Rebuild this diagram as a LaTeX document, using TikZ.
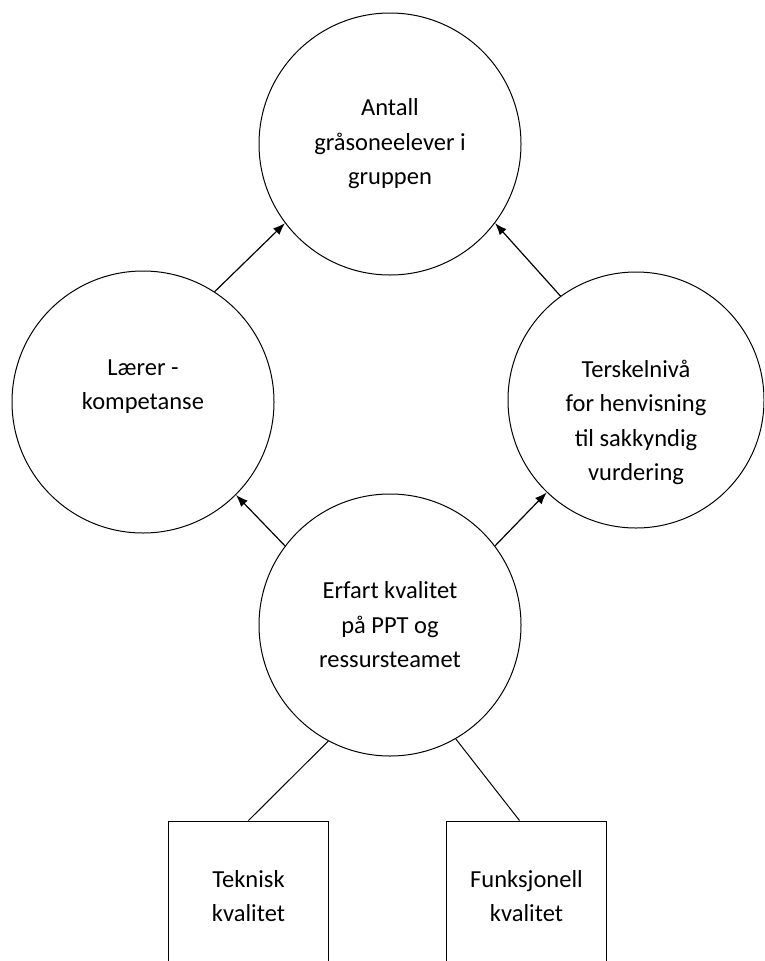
\documentclass[tikz,border=0pt]{standalone}
\usepackage{fontspec}
\setmainfont{Carlito}
\usetikzlibrary{arrows.meta}

\begin{document}
\begin{tikzpicture}[x=1pt, y=-1pt,
        circ/.style={draw, circle, line width=1pt, minimum size=262pt, inner sep=0pt,
            align=center, font=\fontsize{24.5}{34.5}\selectfont},
        boks/.style={draw, rectangle, line width=1pt, minimum width=160pt, minimum height=150pt,
            align=center, font=\fontsize{24.5}{34.5}\selectfont},
        pil/.style={-{Latex[length=12pt, width=9pt]}, line width=1.2pt}]
        \useasboundingbox (0, 0) rectangle (764, 961);
        \clip (0, 0) rectangle (764, 961);
        % Circles
        \node [circ] (antall) at (390, 144) {Antall\\gråsoneelever i\\gruppen};
        \node [circ] (laerer) at (143, 402) {Lærer -\\kompetanse\\\mbox{}};
        \node [circ, minimum size=256pt] (terskel) at (636, 400) {\mbox{}\\[28pt]Terskelnivå\\for henvisning\\til sakkyndig\\vurdering};
        \node [circ] (erfart) at (390, 625) {Erfart kvalitet\\på PPT og\\ressursteamet};
        % Boxes
        \node [boks] (teknisk) at (248.5, 896) {Teknisk\\kvalitet};
        \node [boks] (funksjonell) at (526.5, 896) {Funksjonell\\kvalitet};
        % Arrows
        \draw [pil] (laerer.57) -- (antall.217);
        \draw [pil] (terskel.126) -- (antall.-37);
        \draw [pil] (erfart.143) -- (laerer.-45);
        \draw [pil] (erfart.37) -- (terskel.-134);
        % Lines
        \draw [line width=1pt] (erfart.-118) -- (teknisk.north);
        \draw [line width=1pt] (erfart.-60) -- ([xshift=-7pt]funksjonell.north);
    \end{tikzpicture}
\end{document}
